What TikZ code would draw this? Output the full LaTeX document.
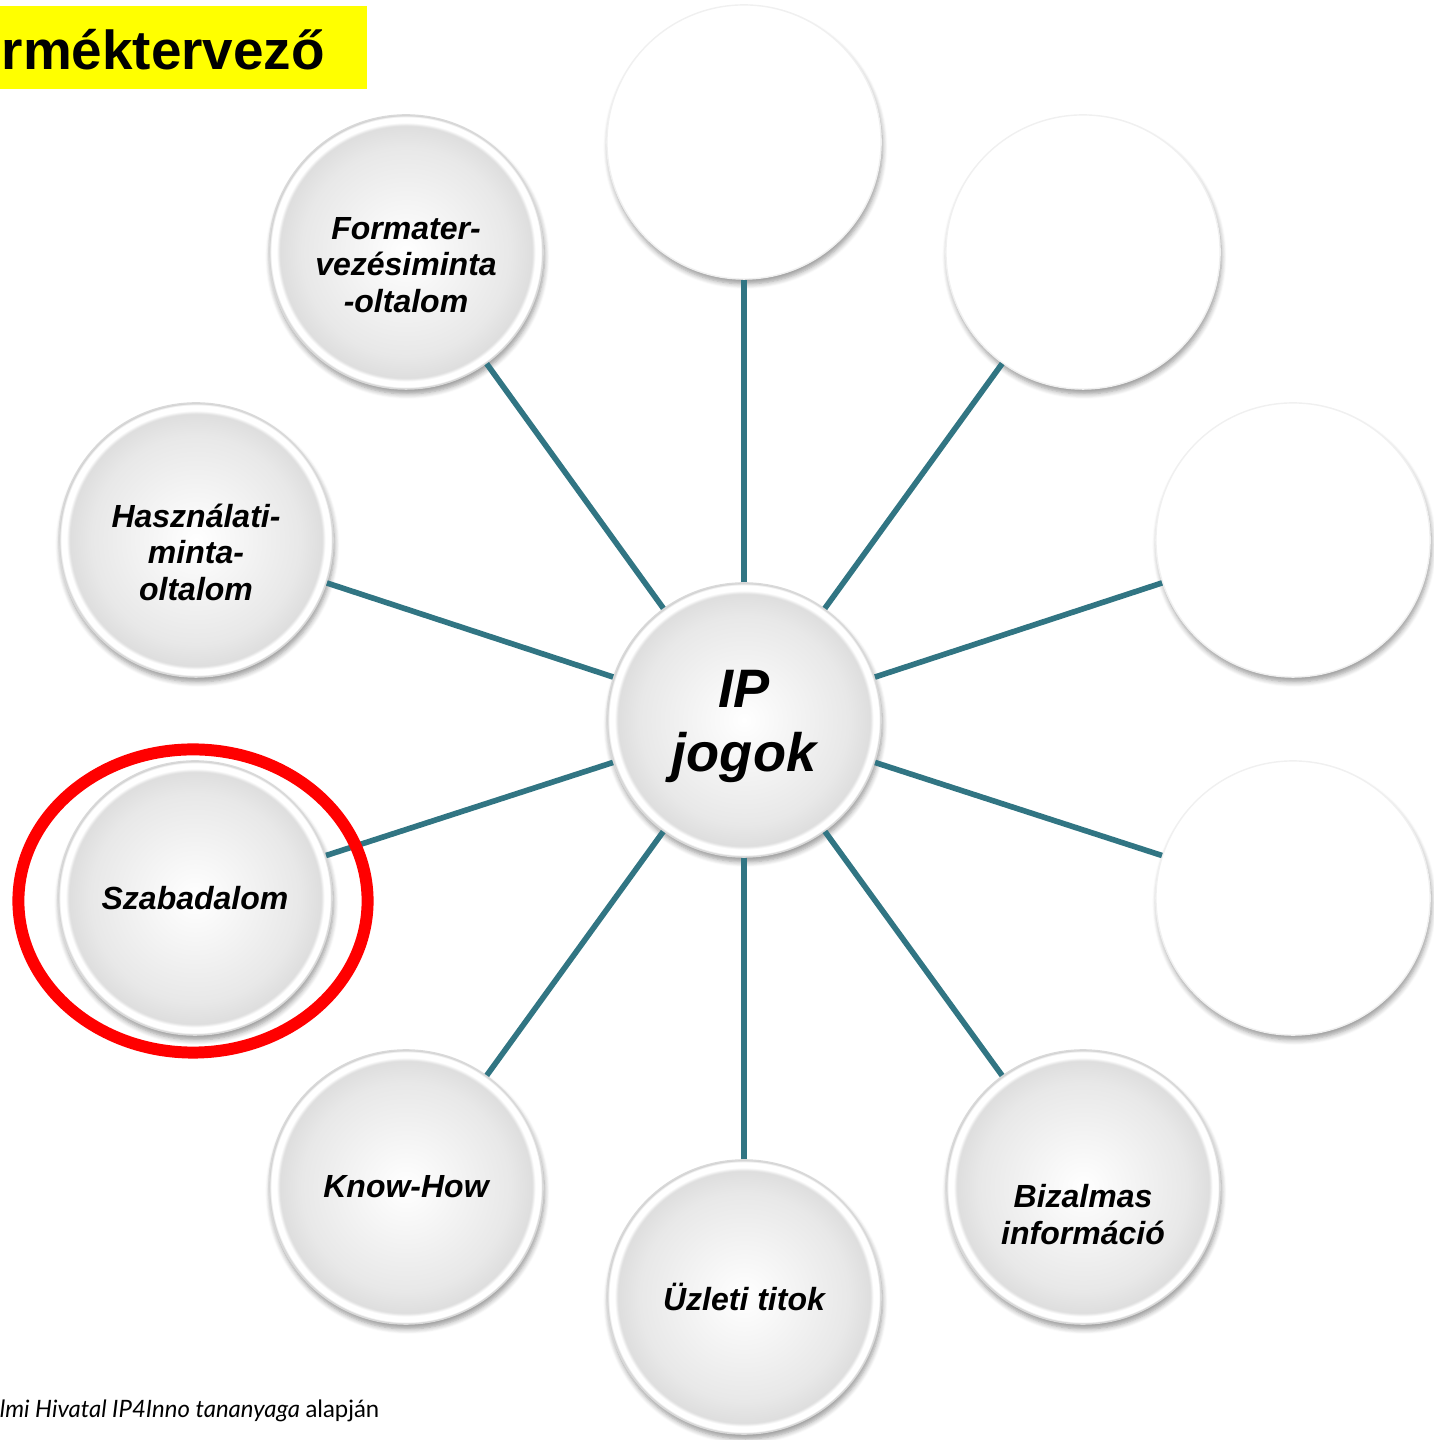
\documentclass[tikz,border=0pt]{standalone}
\usepackage{fontspec}
\setmainfont{Liberation Sans}
\newfontfamily\forrasfont{Lato}
\usetikzlibrary{shapes.geometric,shadows.blur}
\definecolor{kapocsteal}{RGB}{49,117,131}
\definecolor{jelolored}{RGB}{255,0,0}
\definecolor{cimsarga}{RGB}{255,255,0}

\pgfdeclareradialshading{gombshade}{\pgfpoint{0bp}{0bp}}{%
  color(0bp)=(white); color(19bp)=(black!9); color(23bp)=(black!13);
  color(23.6bp)=(white); color(24.6bp)=(white); color(25bp)=(black!22);
  color(50bp)=(black!22)}

\tikzset{
  gomb/.style={circle, minimum size=2.74cm, inner sep=0pt, shading=gombshade,
    draw=black!15, line width=0.4pt, align=center,
    font=\fontsize{9.1}{10.5}\selectfont\bfseries\itshape,
    blur shadow={shadow xshift=0.4pt, shadow yshift=-1.4pt, shadow blur radius=1.4pt,
      shadow blur steps=6, shadow opacity=40}},
  ures/.style={circle, minimum size=2.74cm, inner sep=0pt, fill=white,
    draw=black!6, line width=0.4pt,
    blur shadow={shadow xshift=0.4pt, shadow yshift=-1.4pt, shadow blur radius=1.4pt,
      shadow blur steps=6, shadow opacity=40}},
  kapocs/.style={draw=kapocsteal, line width=1.6pt},
  kiemeles/.style={ellipse, draw=jelolored, line width=3.4pt, inner sep=0pt,
    minimum width=3.49cm, minimum height=3.03cm},
}

\begin{document}
\begin{tikzpicture}[x=0.01cm, y=0.01cm]
    \useasboundingbox (0,0) rectangle (1434,1440);
    \clip (0,0) rectangle (1434,1440);

    % Title strip
    \fill[cimsarga] (0,1351) rectangle (367,1434);
    \node[anchor=base west, inner sep=0pt, font=\fontsize{15.6}{19}\selectfont\bfseries] (cim) at (1,1370) {rméktervező};

    % Centre
    \node[gomb, text height=1.15cm, font=\fontsize{15.4}{18.2}\selectfont\bfseries\itshape] (ip) at (744,720) {IP\\jogok};

    % Empty circles
    \node[ures] (ures1) at (744,1298) {};
    \node[ures] (ures2) at (1083,1188) {};
    \node[ures] (ures3) at (1293,900) {};
    \node[ures] (ures4) at (1293,542) {};

    % Labelled circles
    \node[gomb, text height=1.16cm] (bizalmas) at (1083,253) {Bizalmas\\információ};
    \node[gomb] (uzleti) at (744,143) {Üzleti titok};
    \node[gomb] (knowhow) at (406,253) {Know-How};
    \node[gomb] (szabadalom) at (195,542) {Szabadalom};
    \node[gomb, text height=1.22cm] (hasznalati) at (196,900) {Használati-\\minta-\\oltalom};
    \node[gomb, text height=1.22cm] (formater) at (406,1188) {Formater-\\vezésiminta\\-oltalom};

    % Spokes
    \draw[kapocs] (ip) -- (ures1);
    \draw[kapocs] (ip) -- (ures2);
    \draw[kapocs] (ip) -- (ures3);
    \draw[kapocs] (ip) -- (ures4);
    \draw[kapocs] (ip) -- (bizalmas);
    \draw[kapocs] (ip) -- (uzleti);
    \draw[kapocs] (ip) -- (knowhow);
    \draw[kapocs] (ip) -- (szabadalom);
    \draw[kapocs] (ip) -- (hasznalati);
    \draw[kapocs] (ip) -- (formater);

    % Red ring round Szabadalom
    \node[kiemeles] (kiemeles) at (193,539) {};

    % Source line
    \node[anchor=base east, inner sep=0pt, font=\forrasfont\fontsize{6.8}{8}\selectfont] (forras) at (380,22) {\itshape lmi Hivatal IP4Inno tananyaga\/ \upshape alapján};
\end{tikzpicture}
\end{document}
